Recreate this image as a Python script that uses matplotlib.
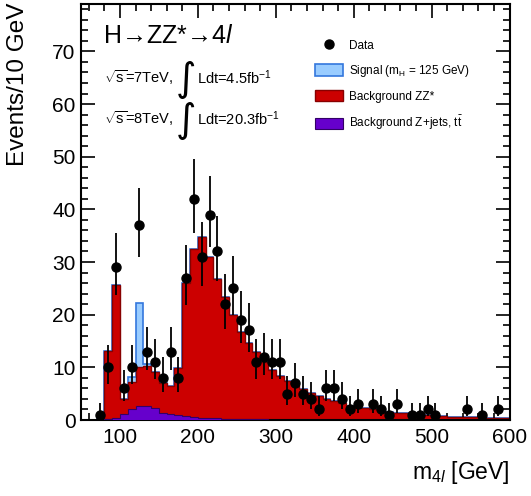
import math
import numpy as np
import matplotlib
matplotlib.use("Agg")
import matplotlib.pyplot as plt
from matplotlib.lines import Line2D
from matplotlib.patches import Patch

# ---------------- data ----------------
bin_edges = np.arange(70, 610, 10)  # 70..600

# Z+jets, ttbar background (per bin)
zjets = [0.05, 0.15, 0.4, 1.2, 2.1, 2.7, 2.65, 2.3, 1.4, 1.1,
         0.9, 0.7, 0.55, 0.45, 0.38, 0.3, 0.25, 0.2, 0.17, 0.15,
         0.12, 0.1, 0.09, 0.08, 0.07, 0.06, 0.05, 0.05, 0.04, 0.04,
         0.04, 0.03, 0.03, 0.03, 0.03, 0.03, 0.02, 0.02, 0.02, 0.02,
         0.02, 0.02, 0.02, 0.02, 0.02, 0.02, 0.02, 0.02, 0.02, 0.02,
         0.02, 0.02, 0.02]
# total of Z+jets + ZZ* (top of red histogram)
bkg_total = [0.3, 13.1, 25.7, 4.0, 7.2, 10.0, 10.3, 9.1, 7.0, 6.5,
             9.8, 26.0, 32.5, 34.7, 31.0, 26.7, 23.4, 20.0, 16.8, 14.7,
             12.9, 11.0, 9.5, 8.4, 7.4, 6.7, 5.8, 5.2, 4.5, 3.9,
             3.6, 3.2, 2.7, 2.4, 2.2, 2.0, 1.8, 1.5, 1.4, 1.3,
             1.1, 1.0, 0.9, 0.8, 0.7, 0.65, 0.6, 0.55, 0.5, 0.45,
             0.42, 0.4, 0.38]
zz = [t - z for t, z in zip(bkg_total, zjets)]
# Higgs signal mH = 125 GeV
signal = [0, 0, 0, 0.05, 0.9, 12.2, 0.4, 0, 0, 0] + [0] * 43

data_x = [75, 85, 95, 105, 115, 125, 135, 145, 155, 165, 175, 185, 195, 205,
          215, 225, 235, 245, 255, 265, 275, 285, 295, 305, 315, 325, 335,
          345, 355, 365, 375, 385, 395, 405, 425, 435, 445, 455, 475, 485,
          495, 505, 545, 565, 585]
data_y = [1, 10, 29, 6, 10, 37, 13, 11, 8, 13, 8, 27, 42, 31,
          39, 32, 22, 25, 19, 17, 11, 12, 11, 11, 5, 7, 5,
          4, 2, 6, 6, 4, 2, 3, 3, 2, 1, 3, 1, 1,
          2, 1, 2, 1, 2]

xticks = [100, 200, 300, 400, 500, 600]
yticks = [0, 10, 20, 30, 40, 50, 60, 70]


# ------------- Poisson (Garwood) 68% intervals -------------
def pois_cdf(n, mu):
    return sum(math.exp(-mu + k * math.log(mu) - math.lgamma(k + 1)) for k in range(n + 1))


def solve_decreasing(f, lo, hi):
    for _ in range(80):
        mid = 0.5 * (lo + hi)
        if f(mid) > 0:
            lo = mid
        else:
            hi = mid
    return 0.5 * (lo + hi)


alpha = 0.1587
err_lo, err_hi = [], []
for n in data_y:
    up = solve_decreasing(lambda m: pois_cdf(n, m) - alpha, 1e-6, 200)
    lo = 0.0 if n == 0 else solve_decreasing(lambda m: pois_cdf(n - 1, m) - (1 - alpha), 1e-6, 200)
    err_lo.append(max(n - lo, 0))
    err_hi.append(max(up - n, 0))

# ---------------- style ----------------
plt.rcParams['font.family'] = ['Liberation Sans', 'DejaVu Sans']
plt.rcParams['mathtext.fontset'] = 'custom'
plt.rcParams['mathtext.rm'] = 'Liberation Sans'
plt.rcParams['mathtext.it'] = 'Liberation Sans:italic'
plt.rcParams['mathtext.bf'] = 'Liberation Sans:bold'

W, H = 531, 496
fig = plt.figure(figsize=(W / 100, H / 100), dpi=100)
ax = fig.add_axes([81 / W, 1 - 420 / H, (509.5 - 81) / W, (420 - 4) / H])

purple = '#6600CC'
red = '#CC0000'
blue_fill = '#99CCFF'
blue_edge = '#3377DD'

sig_total = [b + s for b, s in zip(bkg_total, signal)]
ax.stairs(sig_total, bin_edges, fill=True, color=blue_fill, zorder=1)
ax.stairs(sig_total, bin_edges, fill=False, color=blue_edge, lw=1.2, zorder=1.1)
ax.stairs(bkg_total, bin_edges, fill=True, color=red, zorder=2)
ax.stairs(bkg_total, bin_edges, fill=False, color='#880000', lw=1.0, zorder=2.1)
ax.stairs(zjets, bin_edges, fill=True, color=purple, zorder=3)
ax.stairs(zjets, bin_edges, fill=False, color='#330066', lw=0.8, zorder=3.1)

ax.errorbar(data_x, data_y, yerr=[err_lo, err_hi], fmt='o', color='black',
            markersize=6.5, elinewidth=1.3, capsize=0, zorder=5)

ax.set_xlim(50, 600)
ax.set_ylim(0, 79)
ax.set_xticks(xticks)
ax.set_xticks(np.arange(60, 601, 20), minor=True)
ax.set_yticks(yticks)
ax.set_yticks(np.arange(0, 79, 2), minor=True)
ax.tick_params(which='both', direction='in', top=True, right=True, width=1.2)
ax.tick_params(which='major', length=10, labelsize=15, pad=6)
ax.tick_params(axis='y', which='major', pad=4)
ax.tick_params(which='minor', length=5)
for s in ax.spines.values():
    s.set_linewidth(1.5)

fig.text(18 / W, 1 - 3 / H, 'Events/10 GeV', rotation=90, ha='center', va='top', fontsize=17.5)
fig.text(510 / W, 1 - 472 / H, r'm$_{4\mathit{l}}$ [GeV]', ha='right', va='center', fontsize=16.5)

# annotations
fig.text(103 / W, 1 - 36 / H, r'H→ZZ*→4$\mathit{l}$', ha='left', va='center', fontsize=18)
for yc, txt1, txt2 in [(78, r'$\sqrt{\mathrm{s}}$=7TeV,', r'Ldt=4.5fb$^{-1}$'),
                       (119, r'$\sqrt{\mathrm{s}}$=8TeV,', r'Ldt=20.3fb$^{-1}$')]:
    fig.text(104 / W, 1 - yc / H, txt1, ha='left', va='center', fontsize=10.5)
    fig.text(185 / W, 1 - (yc + 2) / H, r'$\int$', ha='center', va='center', fontsize=20,
             math_fontfamily='dejavusans')
    fig.text(197 / W, 1 - yc / H, txt2, ha='left', va='center', fontsize=10.5)

handles = [
    Line2D([], [], marker='o', color='black', ls='none', markersize=6.5),
    Patch(facecolor=blue_fill, edgecolor=blue_edge, lw=1.2),
    Patch(facecolor=red, edgecolor='#880000', lw=1.0),
    Patch(facecolor=purple, edgecolor='#330066', lw=0.8),
]
labels = ['Data', r'Signal (m$_{\mathrm{H}}$ = 125 GeV)', 'Background ZZ*',
          r'Background Z+jets, t$\bar{\mathrm{t}}$']
fig.legend(handles, labels, loc='upper left', bbox_to_anchor=(315 / W, 1 - 39 / H),
           frameon=False, fontsize=8.5, handlelength=2.35, handleheight=1.1,
           labelspacing=0.95, handletextpad=0.55, borderpad=0, borderaxespad=0)

fig.savefig('out.png', dpi=100)
